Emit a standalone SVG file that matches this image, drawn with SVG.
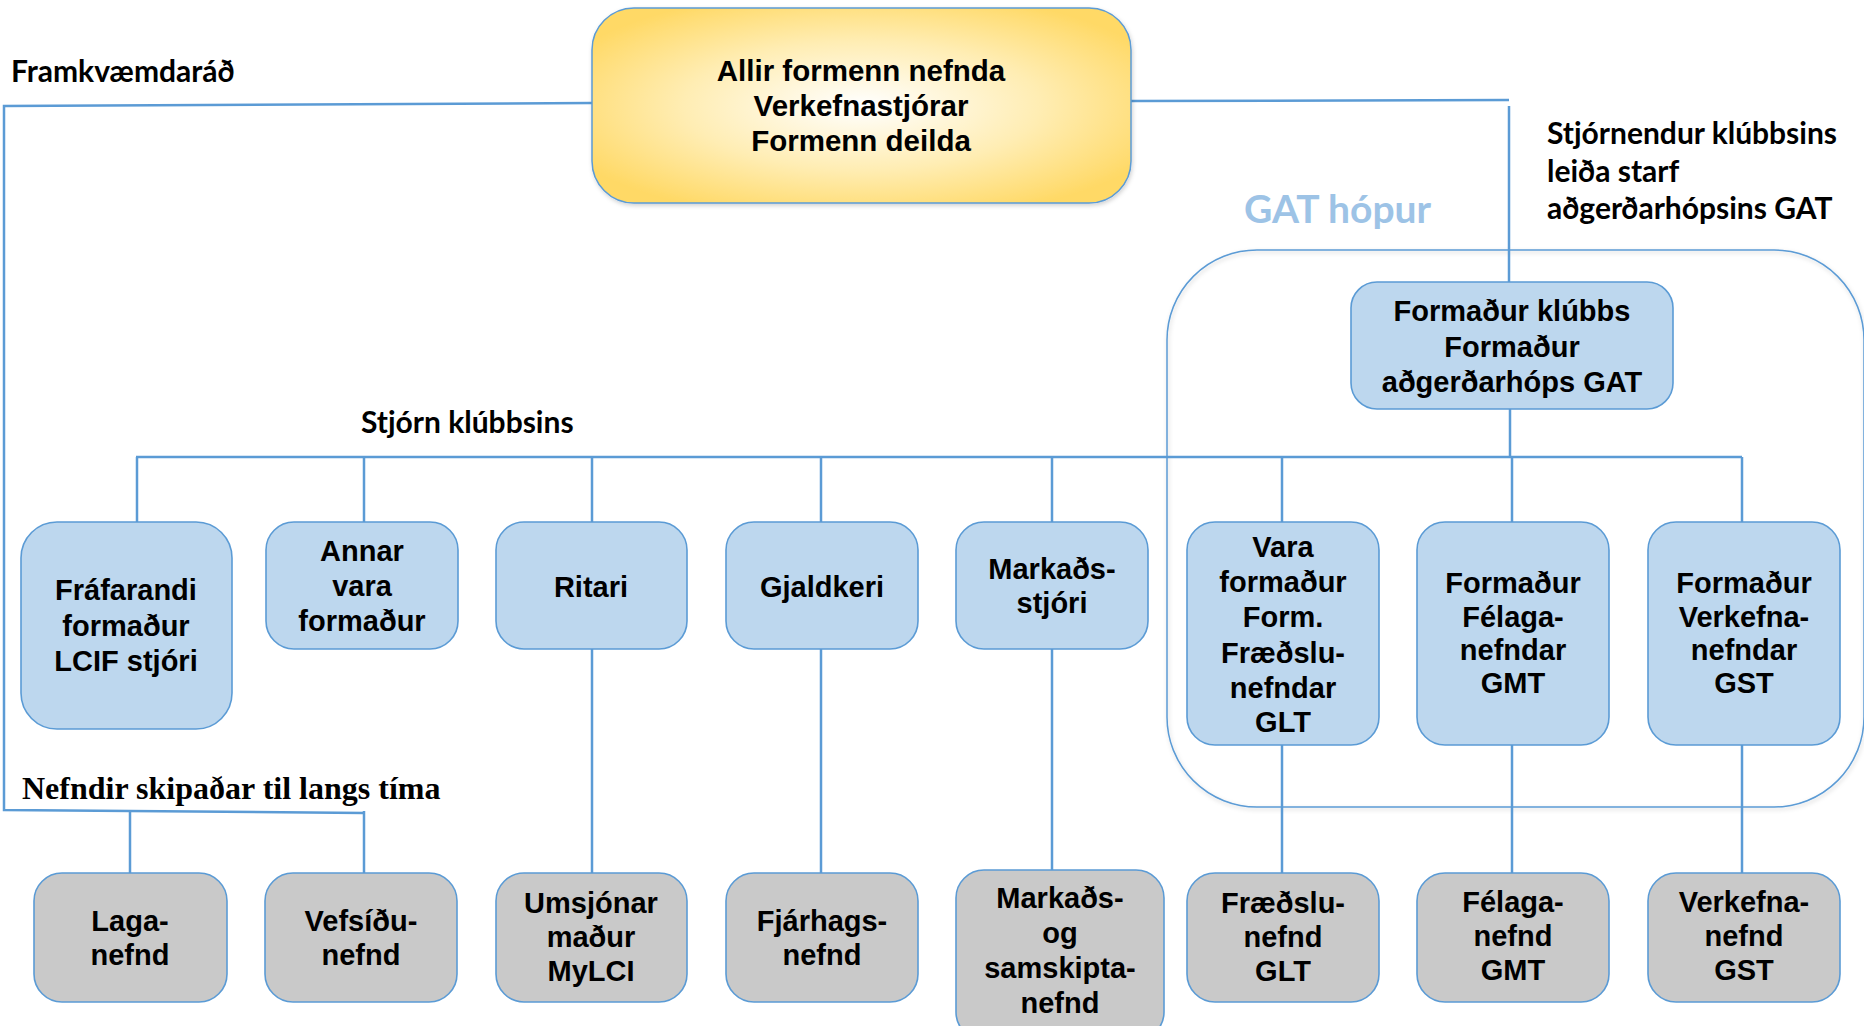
<svg xmlns="http://www.w3.org/2000/svg" width="1864" height="1026" viewBox="0 0 1864 1026">
<style>
.conn{fill:none;stroke:#5B9BD5;stroke-width:2.5}
.blue{fill:#BDD7EE;stroke:#5B9BD5;stroke-width:1.6}
.grey{fill:#C9C9C9;stroke:#5B9BD5;stroke-width:1.6}
.nt{font-family:"Liberation Sans",Arial,sans-serif;font-weight:bold;font-size:29px;fill:#000;text-anchor:middle}
.lbl{font-family:Lato,"Liberation Sans",sans-serif;font-weight:bold;font-size:30px;fill:#000}
.ser{font-family:"Liberation Serif","Times New Roman",serif;font-weight:bold;font-size:32px;fill:#000}
</style>
<defs>
<radialGradient id="gold" cx="50%" cy="50%" r="60%">
<stop offset="0" stop-color="#FFFFFF"/>
<stop offset="0.55" stop-color="#FFEDB3"/>
<stop offset="1" stop-color="#FFD966"/>
</radialGradient>
<filter id="sh" x="-5%" y="-5%" width="110%" height="110%">
<feDropShadow dx="1" dy="2" stdDeviation="2" flood-color="#000" flood-opacity="0.18"/>
</filter>
</defs>

<g id="gat-group">
<rect x="1167" y="250" width="697" height="557" rx="90" ry="90" fill="none" stroke="#5B9BD5" stroke-width="1.5" filter="url(#sh)"/>
<text x="1244" y="223" style="font-family:Lato,'Liberation Sans',sans-serif;font-weight:bold;font-size:39px;fill:#9DC3E6">GAT hópur</text>
</g>

<g id="connectors">
<polyline class="conn" points="592,103 4,106 4,810 364,813"/>
<line class="conn" x1="130" y1="812" x2="130" y2="873"/>
<line class="conn" x1="364" y1="811" x2="364" y2="873"/>
<line class="conn" x1="1131" y1="101" x2="1509" y2="100"/>
<line class="conn" x1="1509" y1="106" x2="1509" y2="282"/>
<line class="conn" x1="1510" y1="409" x2="1510" y2="457"/>
<line class="conn" x1="136" y1="457" x2="1742" y2="457"/>
<line class="conn" x1="137" y1="457" x2="137" y2="522"/>
<line class="conn" x1="364" y1="457" x2="364" y2="522"/>
<line class="conn" x1="592" y1="457" x2="592" y2="522"/>
<line class="conn" x1="821" y1="457" x2="821" y2="522"/>
<line class="conn" x1="1052" y1="457" x2="1052" y2="522"/>
<line class="conn" x1="1282" y1="457" x2="1282" y2="522"/>
<line class="conn" x1="1512" y1="457" x2="1512" y2="522"/>
<line class="conn" x1="1742" y1="457" x2="1742" y2="522"/>
<line class="conn" x1="592" y1="649" x2="592" y2="873"/>
<line class="conn" x1="821" y1="649" x2="821" y2="873"/>
<line class="conn" x1="1052" y1="649" x2="1052" y2="870"/>
<line class="conn" x1="1282" y1="745" x2="1282" y2="873"/>
<line class="conn" x1="1512" y1="745" x2="1512" y2="873"/>
<line class="conn" x1="1742" y1="745" x2="1742" y2="873"/>
</g>

<g id="labels">
<text class="lbl" x="11" y="82">Framkvæmdaráð</text>
<text class="lbl" x="1547" y="144">Stjórnendur klúbbsins</text>
<text class="lbl" x="1547" y="182">leiða starf</text>
<text class="lbl" x="1547" y="219">aðgerðarhópsins GAT</text>
<text class="lbl" x="361" y="433">Stjórn klúbbsins</text>
<text class="ser" x="22" y="799">Nefndir skipaðar til langs tíma</text>
</g>

<g id="framkvaemdarad">
<rect x="592" y="8" width="539" height="195" rx="42" fill="url(#gold)" stroke="#5B9BD5" stroke-width="1.5" filter="url(#sh)"/>
<text class="nt" style="font-size:29.5px" x="861" y="81">Allir formenn nefnda</text>
<text class="nt" style="font-size:29.5px" x="861" y="116">Verkefnastjórar</text>
<text class="nt" style="font-size:29.5px" x="861" y="151">Formenn deilda</text>
</g>

<g id="formadur-klubbs">
<rect class="blue" x="1351" y="282" width="322" height="127" rx="26"/>
<text class="nt" x="1512" y="321">Formaður klúbbs</text>
<text class="nt" x="1512" y="357">Formaður</text>
<text class="nt" x="1512" y="392">aðgerðarhóps GAT</text>
</g>

<g id="frafarandi">
<rect class="blue" x="21" y="522" width="211" height="207" rx="36"/>
<text class="nt" x="126" y="600">Fráfarandi</text>
<text class="nt" x="126" y="636">formaður</text>
<text class="nt" x="126" y="671">LCIF stjóri</text>
</g>

<g id="annar-vara">
<rect class="blue" x="266" y="522" width="192" height="127" rx="28"/>
<text class="nt" x="362" y="561">Annar</text>
<text class="nt" x="362" y="596">vara</text>
<text class="nt" x="362" y="631">formaður</text>
</g>

<g id="ritari">
<rect class="blue" x="496" y="522" width="191" height="127" rx="28"/>
<text class="nt" x="591" y="597">Ritari</text>
</g>

<g id="gjaldkeri">
<rect class="blue" x="726" y="522" width="192" height="127" rx="28"/>
<text class="nt" x="822" y="597">Gjaldkeri</text>
</g>

<g id="markadsstjori">
<rect class="blue" x="956" y="522" width="192" height="127" rx="28"/>
<text class="nt" x="1052" y="579">Markaðs-</text>
<text class="nt" x="1052" y="613">stjóri</text>
</g>

<g id="vara-formadur">
<rect class="blue" x="1187" y="522" width="192" height="223" rx="28"/>
<text class="nt" x="1283" y="557">Vara</text>
<text class="nt" x="1283" y="592">formaður</text>
<text class="nt" x="1283" y="627">Form.</text>
<text class="nt" x="1283" y="663">Fræðslu-</text>
<text class="nt" x="1283" y="698">nefndar</text>
<text class="nt" x="1283" y="732">GLT</text>
</g>

<g id="formadur-felaga">
<rect class="blue" x="1417" y="522" width="192" height="223" rx="28"/>
<text class="nt" x="1513" y="593">Formaður</text>
<text class="nt" x="1513" y="627">Félaga-</text>
<text class="nt" x="1513" y="660">nefndar</text>
<text class="nt" x="1513" y="693">GMT</text>
</g>

<g id="formadur-verkefna">
<rect class="blue" x="1648" y="522" width="192" height="223" rx="28"/>
<text class="nt" x="1744" y="593">Formaður</text>
<text class="nt" x="1744" y="627">Verkefna-</text>
<text class="nt" x="1744" y="660">nefndar</text>
<text class="nt" x="1744" y="693">GST</text>
</g>

<g id="laganefnd">
<rect class="grey" x="34" y="873" width="193" height="129" rx="28"/>
<text class="nt" x="130" y="931">Laga-</text>
<text class="nt" x="130" y="965">nefnd</text>
</g>

<g id="vefsidunefnd">
<rect class="grey" x="265" y="873" width="192" height="129" rx="28"/>
<text class="nt" x="361" y="931">Vefsíðu-</text>
<text class="nt" x="361" y="965">nefnd</text>
</g>

<g id="umsjonarmadur">
<rect class="grey" x="496" y="873" width="191" height="129" rx="28"/>
<text class="nt" x="591" y="913">Umsjónar</text>
<text class="nt" x="591" y="947">maður</text>
<text class="nt" x="591" y="981">MyLCI</text>
</g>

<g id="fjarhagsnefnd">
<rect class="grey" x="726" y="873" width="192" height="129" rx="28"/>
<text class="nt" x="822" y="931">Fjárhags-</text>
<text class="nt" x="822" y="965">nefnd</text>
</g>

<g id="markads-samskiptanefnd">
<rect class="grey" x="956" y="870" width="208" height="170" rx="28"/>
<text class="nt" x="1060" y="908">Markaðs-</text>
<text class="nt" x="1060" y="943">og</text>
<text class="nt" x="1060" y="978">samskipta-</text>
<text class="nt" x="1060" y="1013">nefnd</text>
</g>

<g id="fraedslunefnd">
<rect class="grey" x="1187" y="873" width="192" height="129" rx="28"/>
<text class="nt" x="1283" y="913">Fræðslu-</text>
<text class="nt" x="1283" y="947">nefnd</text>
<text class="nt" x="1283" y="981">GLT</text>
</g>

<g id="felaganefnd">
<rect class="grey" x="1417" y="873" width="192" height="129" rx="28"/>
<text class="nt" x="1513" y="912">Félaga-</text>
<text class="nt" x="1513" y="946">nefnd</text>
<text class="nt" x="1513" y="980">GMT</text>
</g>

<g id="verkefnanefnd">
<rect class="grey" x="1648" y="873" width="192" height="129" rx="28"/>
<text class="nt" x="1744" y="912">Verkefna-</text>
<text class="nt" x="1744" y="946">nefnd</text>
<text class="nt" x="1744" y="980">GST</text>
</g>
</svg>
